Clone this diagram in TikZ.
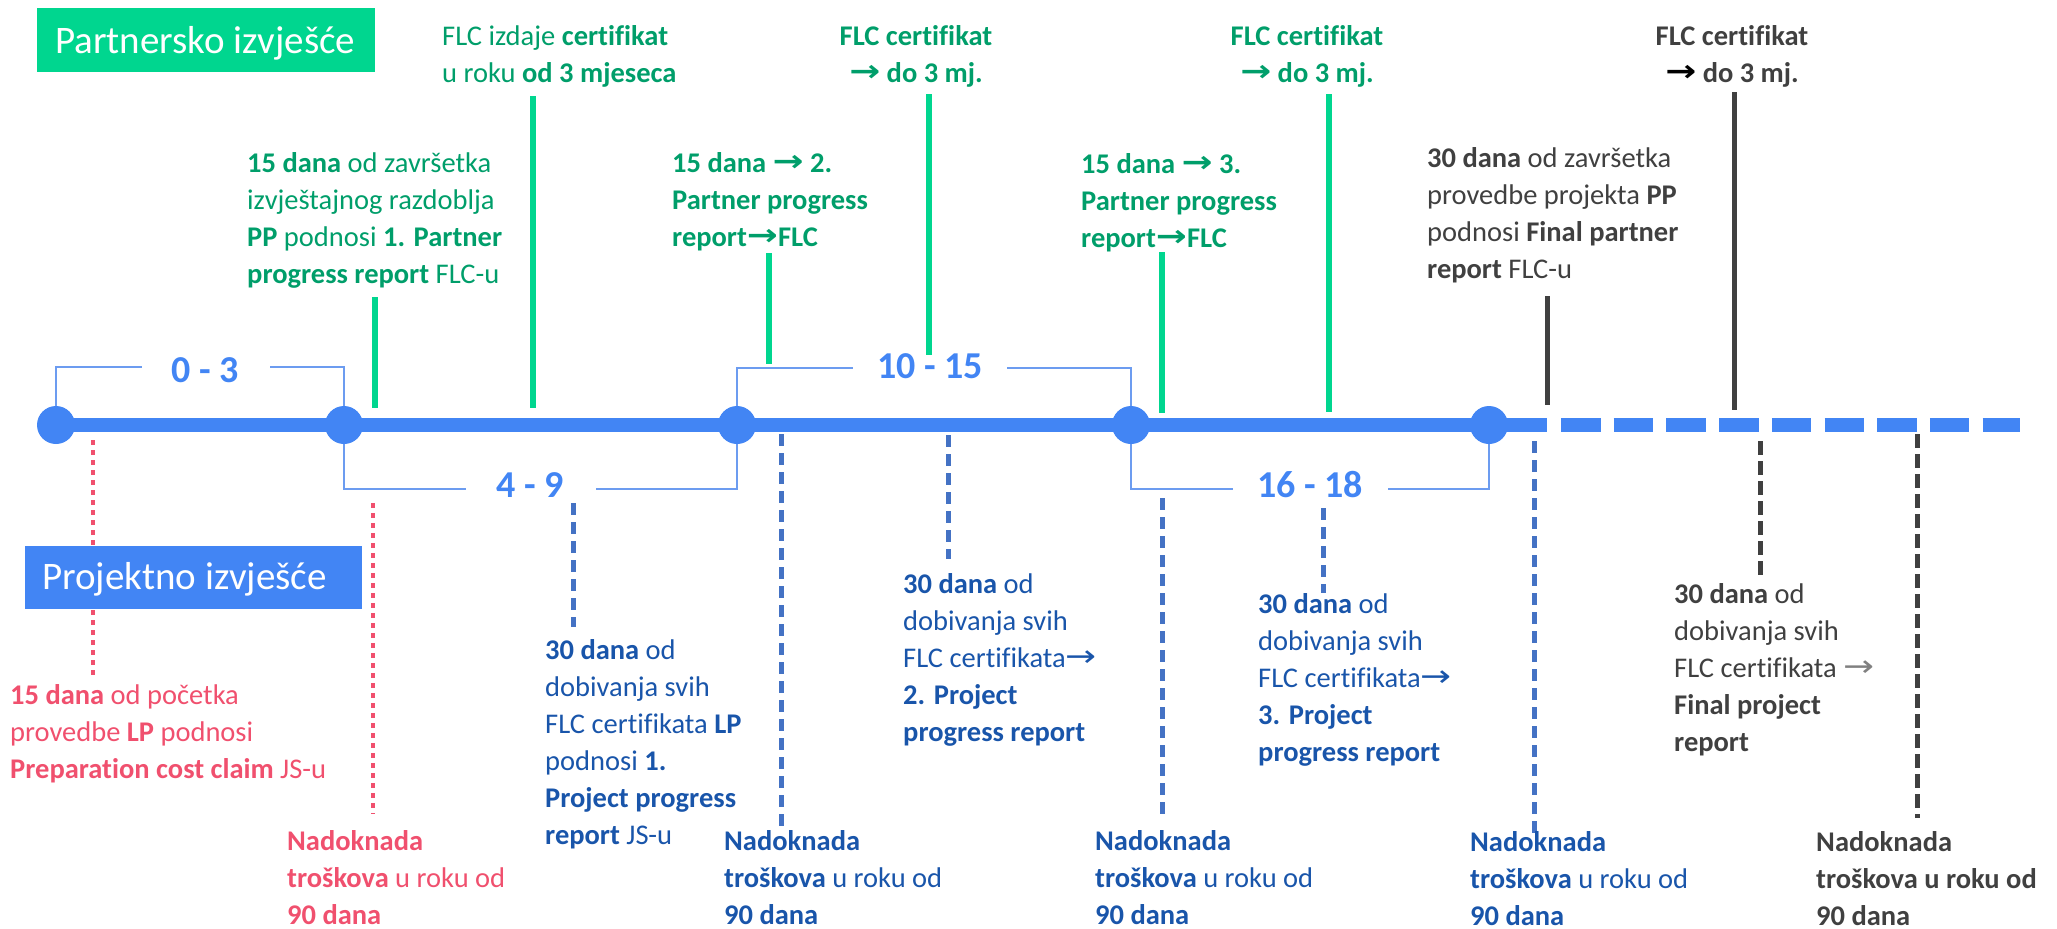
\documentclass[tikz,border=0pt]{standalone}
\usepackage{fontspec}
\setmainfont{Carlito}[Ligatures={NoCommon,NoRare,NoContextual},Contextuals={NoAlternate}]
\newfontfamily\arrfont{DejaVu Sans}
\usetikzlibrary{arrows.meta}
\definecolor{tlblue}{RGB}{66,133,244}
\definecolor{brblue}{RGB}{108,156,240}
\definecolor{gline}{RGB}{0,214,143}
\definecolor{gtext}{RGB}{0,158,106}
\definecolor{pinkc}{RGB}{240,80,110}
\definecolor{dblue}{RGB}{68,114,196}
\definecolor{btext}{RGB}{25,85,170}
\definecolor{darkc}{RGB}{64,64,64}
\definecolor{greyar}{RGB}{128,128,128}
\newcommand\ar{\raisebox{0.02em}{\scalebox{1.3}[1.05]{\arrfont\char"2192}}}
\newcommand\blk[1]{\begin{tabular}[t]{@{}l@{}}#1\end{tabular}}
\newcommand\cblk[1]{\begin{tabular}[t]{@{}c@{}}#1\end{tabular}}
\begin{document}
\begin{tikzpicture}[x=1pt,y=-1pt,
  txt/.style={font=\fontsize{28.5}{37}\selectfont, inner sep=0pt, anchor=base west},
  ctxt/.style={font=\fontsize{28.5}{37}\selectfont\bfseries, inner sep=0pt, anchor=base},
  brl/.style={font=\fontsize{38}{40}\selectfont\bfseries, text=tlblue, inner sep=0pt, anchor=base},
  hdr/.style={font=\fontsize{39}{44}\selectfont, text=white, inner sep=0pt, anchor=base west},
  br/.style={draw=brblue, line width=1.8pt},
  dotc/.style={circle, fill=tlblue, minimum size=38pt, inner sep=0pt},
  gl/.style={draw=gline, line width=5.5pt},
  dl/.style={draw=darkc, line width=5pt},
  pdot/.style={draw=pinkc, line width=4.5pt, dash pattern=on 4.5pt off 5.5pt},
  bdash/.style={draw=dblue, line width=5pt, dash pattern=on 12pt off 7pt},
  ddash/.style={draw=darkc, line width=5pt, dash pattern=on 14pt off 6pt}]
\useasboundingbox (0,0) rectangle (2057,929);

% header boxes
\fill[gline] (37,8) rectangle (375,72);
\node[hdr] (phead) at (55,53) {Partnersko izvješće};

% bottom dotted / dashed lines (under the project box)
\draw[pdot] (93,440) -- (93,677);
\fill[tlblue] (25,546) rectangle (362,609);
\node[hdr] (jhead) at (42,589) {Projektno izvješće};
\draw[pdot] (373,503) -- (373,814);
\draw[bdash] (573,503) -- (573,627);
\draw[bdash] (781,434) -- (781,826);
\draw[bdash] (948,435) -- (948,559);
\draw[bdash] (1162,498) -- (1162,818);
\draw[bdash] (1323,508) -- (1323,593);
\draw[bdash] (1534,441) -- (1534,834);
\draw[ddash] (1760,441) -- (1760,581);
\draw[ddash] (1917,434) -- (1917,818);

% upper vertical lines
\draw[gl] (375,297) -- (375,408);
\draw[gl] (533,96) -- (533,408);
\draw[gl] (769,253) -- (769,364);
\draw[gl] (929,94) -- (929,355);
\draw[gl] (1162,252) -- (1162,413);
\draw[gl] (1329,94) -- (1329,412);
\draw[dl] (1547,296) -- (1547,405);
\draw[dl] (1734,92) -- (1734,410);

% brackets
\draw[br] (56,425) |- (142,367);
\draw[br] (270,367) -| (344,425);
\draw[br] (344,425) |- (466,489);
\draw[br] (596,489) -| (737,425);
\draw[br] (737,425) |- (853,368);
\draw[br] (1007,368) -| (1131,425);
\draw[br] (1131,425) |- (1233,489);
\draw[br] (1388,489) -| (1489,425);
\node[brl] (l1) at (205,382) {0 - 3};
\node[brl] (l2) at (530,497) {4 - 9};
\node[brl] (l3) at (930,378) {10 - 15};
\node[brl] (l4) at (1310,497) {16 - 18};

% timeline
\draw[tlblue, line width=14pt] (56,425) -- (1547,425);
\draw[tlblue, line width=14pt, dash pattern=on 39.5pt off 13.2pt] (1561,425) -- (2020,425);
\node[dotc] (c1) at (56,425) {};
\node[dotc] (c2) at (344,425) {};
\node[dotc] (c3) at (737,425) {};
\node[dotc] (c4) at (1131,425) {};
\node[dotc] (c5) at (1489,425) {};

% upper texts
\node[txt, text=gtext] (t1) at (442,45) {\blk{FLC izdaje \textbf{certifikat}\\ u roku \textbf{od 3 mjeseca}}};
\node[txt, text=gtext] (t2) at (247,172) {\blk{\textbf{15 dana} od završetka\\ izvještajnog razdoblja\\ \textbf{PP} podnosi \textbf{1. Partner}\\ \textbf{progress report} FLC-u}};
\node[ctxt, text=gtext] (t3) at (916,45) {\cblk{FLC certifikat\\ \ar{} do 3 mj.}};
\node[txt, text=gtext, font=\fontsize{28.5}{37}\selectfont\bfseries] (t4) at (672,172) {\blk{15 dana \ar{} 2.\\ Partner progress\\ report\ar{}FLC}};
\node[ctxt, text=gtext] (t5) at (1307,45) {\cblk{FLC certifikat\\ \ar{} do 3 mj.}};
\node[txt, text=gtext, font=\fontsize{28.5}{37}\selectfont\bfseries] (t6) at (1081,173) {\blk{15 dana \ar{} 3.\\ Partner progress\\ report\ar{}FLC}};
\node[ctxt, text=darkc] (t7) at (1732,45) {\cblk{FLC certifikat\\ {\color{black}\ar} do 3 mj.}};
\node[txt, text=darkc] (t8) at (1427,167) {\blk{\textbf{30 dana} od završetka\\ provedbe projekta \textbf{PP}\\ podnosi \textbf{Final partner}\\ \textbf{report} FLC-u}};

% lower texts
\node[txt, text=pinkc] (p1) at (10,704) {\blk{\textbf{15 dana} od početka\\ provedbe \textbf{LP} podnosi\\ \textbf{Preparation cost claim} JS-u}};
\node[txt, text=pinkc] (p2) at (287,850) {\blk{\textbf{Nadoknada}\\ \textbf{troškova} u roku od\\ \textbf{90 dana}}};
\node[txt, text=btext] (b1) at (545,659) {\blk{\textbf{30 dana} od\\ dobivanja svih\\ FLC certifikata \textbf{LP}\\ podnosi \textbf{1.}\\ \textbf{Project progress}\\ \textbf{report} JS-u}};
\node[txt, text=btext] (b2) at (724,850) {\blk{\textbf{Nadoknada}\\ \textbf{troškova} u roku od\\ \textbf{90 dana}}};
\node[txt, text=btext] (b3) at (903,593) {\blk{\textbf{30 dana} od\\ dobivanja svih\\ FLC certifikata\ar\\ \textbf{2. Project}\\ \textbf{progress report}}};
\node[txt, text=btext] (b4) at (1095,850) {\blk{\textbf{Nadoknada}\\ \textbf{troškova} u roku od\\ \textbf{90 dana}}};
\node[txt, text=btext] (b5) at (1258,613) {\blk{\textbf{30 dana} od\\ dobivanja svih\\ FLC certifikata\ar\\ \textbf{3. Project}\\ \textbf{progress report}}};
\node[txt, text=btext] (b6) at (1470,851) {\blk{\textbf{Nadoknada}\\ \textbf{troškova} u roku od\\ \textbf{90 dana}}};
\node[txt, text=darkc] (d1) at (1674,603) {\blk{\textbf{30 dana} od\\ dobivanja svih\\ FLC certifikata {\color{greyar}\ar}\\ \textbf{Final project}\\ \textbf{report}}};
\node[txt, text=darkc, font=\fontsize{28.5}{37}\selectfont\bfseries] (d2) at (1816,851) {\blk{Nadoknada\\ troškova u roku od\\ 90 dana}};
\end{tikzpicture}
\end{document}
